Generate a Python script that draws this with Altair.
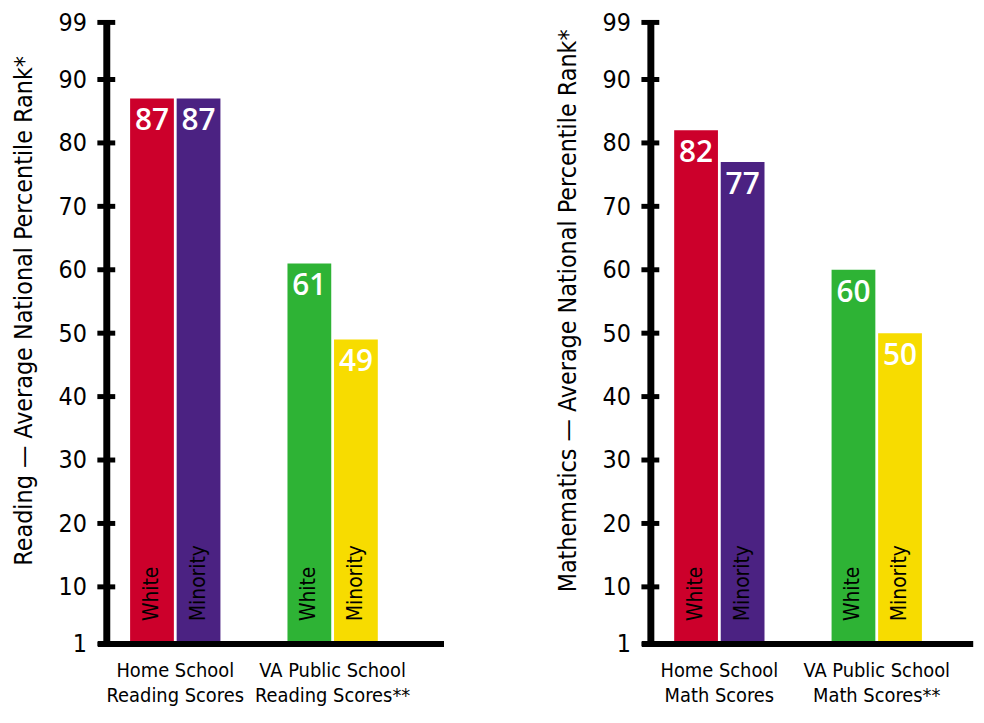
import altair as alt
import pandas as pd

# ---- data ----
groups_reading = ["Home School|Reading Scores", "VA Public School|Reading Scores**"]
groups_math = ["Home School|Math Scores", "VA Public School|Math Scores**"]
subgroups = ["White", "Minority"]
reading_values = [87, 87, 61, 49]
math_values = [82, 77, 60, 50]
bar_keys = ["home_white", "home_minority", "va_white", "va_minority"]
bar_colors = ["#cc002b", "#4b2282", "#2eb335", "#f7dc00"]
y_ticks = [1, 10, 20, 30, 40, 50, 60, 70, 80, 90, 99]
titles = ["Reading — Average National Percentile Rank*",
          "Mathematics — Average National Percentile Rank*"]

FONT = "DejaVu Sans Condensed"
NUM_FONT = "Open Sans"
H = 626


def panel(groups, values, title, width, p_outer, align):
    df = pd.DataFrame({
        "group": [groups[0], groups[0], groups[1], groups[1]],
        "sub": subgroups * 2,
        "value": values,
        "key": bar_keys,
    })
    ticks = pd.DataFrame({"value": y_ticks})
    yscale = alt.Scale(domain=[1, 99], nice=False, zero=False)
    yaxis = alt.Axis(title=title, values=y_ticks, ticks=False, grid=False,
                     labelFont=FONT, labelFontSize=25, labelColor="black",
                     labelPadding=20, domainColor="black", domainWidth=7,
                     titleFont=FONT, titleFontSize=25, titleFontWeight="normal",
                     titleColor="black", titlePadding=22, titleY=290)
    xscale = alt.Scale(domain=groups, paddingInner=0.426, paddingOuter=p_outer, align=align)
    xaxis = alt.Axis(title=None, labelExpr="split(datum.label, '|')", labelAngle=0,
                     labelFont=FONT, labelFontSize=20, labelLineHeight=25, labelLimit=400,
                     labelColor="black", labelPadding=17, domain=False, ticks=False,
                     labelBaseline="top")
    xoff = alt.XOffset("sub:N", sort=subgroups,
                       scale=alt.Scale(domain=subgroups, paddingInner=0.06, paddingOuter=0))

    def X():
        return alt.X("group:N", sort=groups, scale=xscale, axis=xaxis)

    def Y(field=None, datum=None):
        if datum is not None:
            return alt.Y(datum=datum, scale=yscale, axis=yaxis)
        return alt.Y(field, type="quantitative", scale=yscale, axis=yaxis)

    base = alt.Chart(df)
    bars = base.mark_bar().encode(
        x=X(), xOffset=xoff, y=Y("value"), y2=alt.datum(1),
        color=alt.Color("key:N", scale=alt.Scale(domain=bar_keys, range=bar_colors), legend=None),
    )
    nums = base.mark_text(font=NUM_FONT, fontSize=30, fontWeight=600, color="white",
                          baseline="alphabetic", dy=32).encode(
        x=X(), xOffset=xoff, y=Y("value"),
        text=alt.Text("value:Q"),
    )
    subs = base.mark_text(font=FONT, fontSize=21, color="black", angle=270,
                          align="left", baseline="middle", dx=23).encode(
        x=X(), xOffset=xoff, y=Y(datum=1),
        text=alt.Text("sub:N"),
    )
    tickrules = alt.Chart(ticks).mark_rule(color="black", strokeWidth=5).encode(
        y=Y("value"), x=alt.value(-9), x2=alt.value(9),
    )
    baseline = alt.Chart(ticks).mark_rule(color="black", strokeWidth=6).encode(
        y=Y(datum=1), x=alt.value(-8), x2=alt.value(width),
    )
    return alt.layer(bars, nums, subs, tickrules, baseline).properties(width=width, height=H)


left = panel(groups_reading, reading_values, titles[0], 340, 0.2855, 0.265)
right = panel(groups_math, math_values, titles[1], 325, 0.238, 0.318)

chart = alt.hconcat(left, right, spacing=109).properties(
    padding={"left": 3, "top": 0, "right": 0, "bottom": 0},
    background="white",
).configure_view(strokeWidth=0, stroke="transparent")

chart.save("out.html", embed_options={"renderer": "svg", "actions": False})
